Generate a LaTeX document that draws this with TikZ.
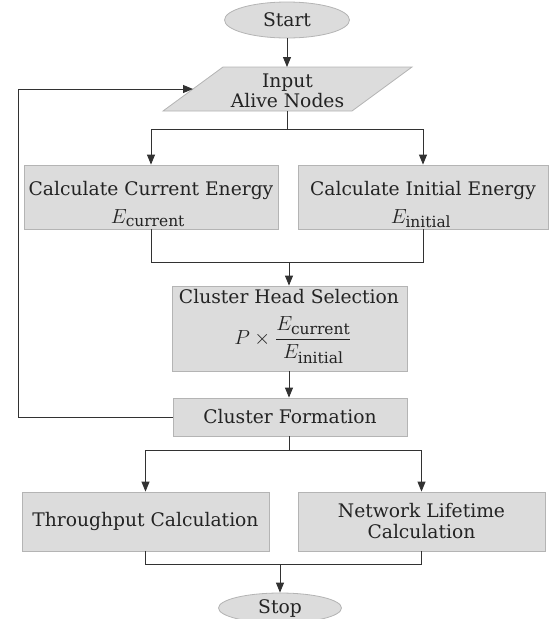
\documentclass[tikz,border=0pt]{standalone}
\usepackage{fontspec}
\setmainfont{DejaVu Serif}
\usetikzlibrary{shapes.geometric,arrows.meta}
\definecolor{boxfill}{RGB}{220,220,220}
\definecolor{boxline}{RGB}{180,180,180}
\definecolor{txt}{RGB}{35,35,35}
\definecolor{conn}{RGB}{50,50,50}
\tikzset{
  every node/.style={text=txt,font=\fontsize{18.7}{21}\selectfont},
  procbox/.style={draw=boxline,fill=boxfill,line width=0.8pt,align=center,inner sep=0pt},
  term/.style={ellipse,draw=boxline,fill=boxfill,line width=0.8pt,inner sep=0pt},
  lbl/.style={anchor=base,inner sep=0pt},
  conn/.style={draw=conn,line width=0.9pt},
  arr/.style={conn,-{Triangle[length=10pt,width=8pt]}}
}
\newcommand{\mymathbig}[1]{\scalebox{1.18}{#1}}
\begin{document}
\begin{tikzpicture}[x=1pt,y=-1pt]
\path[use as bounding box] (0,0) rectangle (550,619);
% Start
\node[term,minimum width=125pt,minimum height=36pt] (start) at (287,20) {Start};
% Input parallelogram
\path[fill=boxfill,draw=boxline,line width=0.8pt] (163,111) -- (223,67) -- (412,67) -- (352,111) -- cycle;
\node[lbl] (inputA) at (287.5,87) {Input};
\node[lbl] (inputB) at (287.5,107) {Alive Nodes};
\coordinate (inTop) at (287,67);
\coordinate (inBot) at (287,111);
\coordinate (inLeft) at (193,89);
% Energy boxes
\node[procbox,minimum width=254pt,minimum height=64pt] (cur) at (151,197) {};
\node[lbl] (curT) at (151,195) {Calculate Current Energy};
\node[lbl] (curM) at (148,223) {\mymathbig{$E_{\mathrm{current}}$}};
\node[procbox,minimum width=250pt,minimum height=64pt] (ini) at (423,197) {};
\node[lbl] (iniT) at (423,195) {Calculate Initial Energy};
\node[lbl] (iniM) at (421,223) {\mymathbig{$E_{\mathrm{initial}}$}};
% Cluster head
\node[procbox,minimum width=235pt,minimum height=85pt] (chs) at (290,328.5) {};
\node[lbl] (chsT) at (289,303) {Cluster Head Selection};
\node[lbl] (chsM) at (293,344.5) {\mymathbig{$\displaystyle P\times\frac{E_{\mathrm{current}}}{E_{\mathrm{initial}}}$}};
% Cluster formation
\node[procbox,minimum width=234pt,minimum height=38pt] (cf) at (290,417) {Cluster Formation};
% Output boxes
\node[procbox,minimum width=247pt,minimum height=59pt] (thr) at (145.5,521.5) {Throughput Calculation};
\node[procbox,minimum width=247pt,minimum height=59pt] (nlt) at (421.5,521.5) {Network Lifetime\\Calculation};
% Stop
\node[term,minimum width=123pt,minimum height=30pt] (stop) at (280,608) {Stop};

% connectors
\draw[arr] (start) -- (inTop);
\coordinate (s1) at (287,129);
\draw[conn] (inBot) -- (s1);
\draw[arr] (s1) -| (cur.north);
\draw[arr] (s1) -| (ini.north);
\coordinate (m1) at (289,262);
\draw[conn] (cur.south) |- (m1);
\draw[conn] (ini.south) |- (m1);
\draw[arr] (m1) -- (chs.north -| m1);
\draw[arr] (chs.south -| m1) -- (cf.north -| m1);
\coordinate (loopA) at (18,417);
\coordinate (loopB) at (18,89);
\draw[arr] (cf.west) -- (loopA) -- (loopB) -- (inLeft);
\coordinate (s2) at (289,450);
\draw[conn] (cf.south -| s2) -- (s2);
\draw[arr] (s2) -| (thr.north);
\draw[arr] (s2) -| (nlt.north);
\coordinate (m2) at (280,564);
\draw[conn] (thr.south) |- (m2);
\draw[conn] (nlt.south) |- (m2);
\draw[arr] (m2) -- (stop.north);
\end{tikzpicture}
\end{document}
